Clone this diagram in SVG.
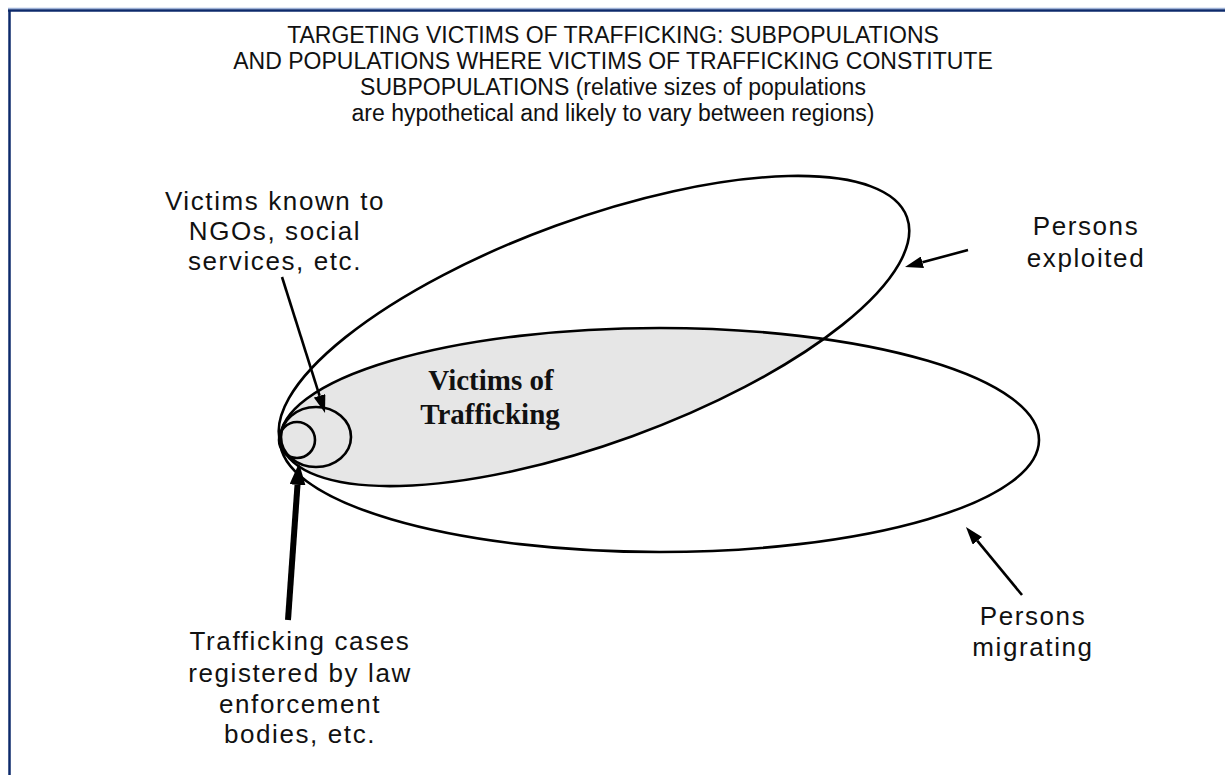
<svg xmlns="http://www.w3.org/2000/svg" width="1225" height="775" viewBox="0 0 1225 775">
<style>
.t{font-family:"Liberation Sans",Arial,sans-serif;fill:#111;text-anchor:middle}
.title{font-size:23px}
.lbl{font-size:26px;letter-spacing:1.6px}
.vt{font-family:"Liberation Serif","Times New Roman",serif;font-weight:bold;font-size:29px;fill:#111;text-anchor:middle}
.ell{fill:none;stroke:#000;stroke-width:2.6}
.arr{stroke:#000;stroke-width:2.6;fill:none}
.arrk{stroke:#000;stroke-width:6;fill:none}
</style>
<defs>
<marker id="ah" viewBox="0 -6 18 12" refX="0" refY="0" markerWidth="18" markerHeight="12" markerUnits="userSpaceOnUse" orient="auto"><path d="M0,-6 L18,0 L0,6 z" fill="#000"/></marker>
<marker id="ahk" viewBox="0 -8 22 16" refX="0" refY="0" markerWidth="22" markerHeight="16" markerUnits="userSpaceOnUse" orient="auto"><path d="M0,-8 L22,0 L0,8 z" fill="#000"/></marker>
<clipPath id="clipExp"><ellipse cx="594" cy="331" rx="333" ry="112" transform="rotate(-20 594 331)"/></clipPath>
</defs>
<rect width="1225" height="775" fill="#fff"/>
<g id="frame">
<line x1="8" y1="8.5" x2="1225" y2="8.5" stroke="#9fb3d8" stroke-width="1.5"/>
<line x1="8" y1="10.5" x2="1225" y2="10.5" stroke="#0d2a6b" stroke-width="2.5"/>
<line x1="9.5" y1="10" x2="9.5" y2="775" stroke="#0d2a6b" stroke-width="2.5"/>
</g>
<g id="title">
<text class="t title" x="613" y="43">TARGETING VICTIMS OF TRAFFICKING: SUBPOPULATIONS</text>
<text class="t title" x="613" y="69">AND POPULATIONS WHERE VICTIMS OF TRAFFICKING CONSTITUTE</text>
<text class="t title" x="613" y="95">SUBPOPULATIONS (relative sizes of populations</text>
<text class="t title" x="613" y="121">are hypothetical and likely to vary between regions)</text>
</g>
<g id="victims-of-trafficking">
<ellipse cx="659.5" cy="440" rx="379.5" ry="112" fill="#e6e6e6" clip-path="url(#clipExp)"/>
<text class="vt" x="491" y="390">Victims of</text>
<text class="vt" x="490" y="424">Trafficking</text>
</g>
<g id="persons-exploited">
<ellipse class="ell" cx="594" cy="331" rx="333" ry="112" transform="rotate(-20 594 331)"/>
<text class="t lbl" x="1086" y="235">Persons</text>
<text class="t lbl" x="1086" y="267">exploited</text>
</g>
<g id="persons-migrating">
<ellipse class="ell" cx="659.5" cy="440" rx="379.5" ry="112"/>
<text class="t lbl" x="1033" y="625">Persons</text>
<text class="t lbl" x="1033" y="656">migrating</text>
</g>
<g id="victims-known-ngos">
<ellipse class="ell" cx="316" cy="437" rx="35" ry="30"/>
<text class="t lbl" x="275" y="210">Victims known to</text>
<text class="t lbl" x="275" y="240">NGOs, social</text>
<text class="t lbl" x="275" y="270">services, etc.</text>
</g>
<g id="cases-law-enforcement">
<circle class="ell" cx="297" cy="440" r="18"/>
<text class="t lbl" x="300" y="650">Trafficking cases</text>
<text class="t lbl" x="300" y="682">registered by law</text>
<text class="t lbl" x="300" y="713">enforcement</text>
<text class="t lbl" x="300" y="743">bodies, etc.</text>
</g>
<g id="connectors">
<line class="arr" x1="282" y1="277" x2="319.6" y2="395.8" marker-end="url(#ah)"/>
<line class="arrk" x1="288" y1="620" x2="297.5" y2="484.9" marker-end="url(#ahk)"/>
<line class="arr" x1="968" y1="250" x2="922.4" y2="262.3" marker-end="url(#ah)"/>
<line class="arr" x1="1022" y1="595" x2="977.4" y2="540.9" marker-end="url(#ah)"/>
</g>
</svg>
